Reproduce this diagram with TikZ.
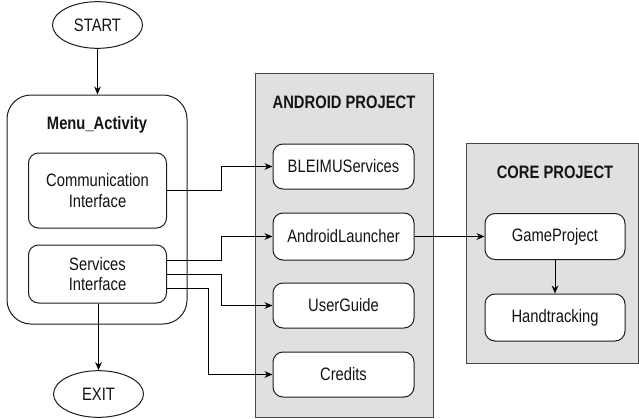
\documentclass[tikz,border=0pt]{standalone}
\usepackage{fontspec}
\setmainfont{Liberation Sans}[FakeStretch=0.82]
\usetikzlibrary{shapes.geometric,arrows.meta}
\definecolor{projfill}{RGB}{224,224,224}
\definecolor{projline}{RGB}{70,70,70}
\definecolor{nodeline}{RGB}{30,30,30}
\definecolor{txt}{RGB}{20,20,20}
\begin{document}
\begin{tikzpicture}[x=0.75pt,y=-0.75pt,
 every node/.style={font=\fontsize{13.5}{15.5}\selectfont, text=txt, inner sep=0pt, align=center},
 box/.style={draw=nodeline, fill=white, rounded corners=7.5pt, line width=0.75pt},
 proj/.style={draw=projline, fill=projfill, line width=0.75pt},
 term/.style={draw=nodeline, ellipse, fill=white, line width=0.75pt, minimum width=67.5pt, minimum height=35pt},
 title/.style={font=\fontsize{13.5}{15.5}\selectfont\bfseries},
 conn/.style={draw=black, line width=0.75pt, -{Stealth[length=6pt,width=5pt]}},
]
\path[use as bounding box, fill=white] (0,0) rectangle (639,418);

% left column
\node[term] (start) at (97.5,25) {START};
\node[box, rounded corners=18pt, minimum width=135pt, minimum height=171.75pt] (menu) at (97,209.5) {};
\node[title] (menutitle) at (97,125) {Menu\_Activity};
\node[box, minimum width=103.5pt, minimum height=56.25pt] (comm) at (97.5,190.5) {Communication\\Interface};
\node[box, minimum width=103.5pt, minimum height=43.5pt] (serv) at (97.5,274) {Services\\Interface};
\node[term] (exit) at (98.5,394) {EXIT};

% android project
\node[proj, minimum width=133.5pt, minimum height=258pt] (android) at (344,245) {};
\node[title] (androidtitle) at (344,102) {ANDROID PROJECT};
\node[box, minimum width=105.75pt, minimum height=33.75pt] (ble) at (343.5,166.5) {BLEIMUServices};
\node[box, minimum width=105.75pt, minimum height=35.25pt] (al) at (343.5,236.5) {AndroidLauncher};
\node[box, minimum width=105.75pt, minimum height=33.75pt] (ug) at (343.5,305.5) {UserGuide};
\node[box, minimum width=105.75pt, minimum height=33.75pt] (cred) at (343.5,374.5) {Credits};

% core project
\node[proj, minimum width=129pt, minimum height=165pt] (core) at (552,253) {};
\node[title] (coretitle) at (555,172) {CORE PROJECT};
\node[box, minimum width=105pt, minimum height=34.5pt] (game) at (555,236.5) {GameProject};
\node[box, minimum width=105pt, minimum height=35.25pt] (hand) at (555,317.5) {Handtracking};

% connectors
\draw[conn] (start.south) -- (start.south |- menu.north);
\draw[conn] (serv.south -| exit.north) -- (exit.north);
\draw[conn] (comm.east) -- ++(54,0) |- (ble.west);
\draw[conn] ([yshift=10.5pt]serv.east) -- ++(54,0) |- (al.west);
\draw[conn] (serv.east) -- ++(54,0) |- (ug.west);
\draw[conn] ([yshift=-10.5pt]serv.east) -- ++(41,0) |- (cred.west);
\draw[conn] (al.east) -- (game.west);
\draw[conn] (game.south) -- (hand.north);
\end{tikzpicture}
\end{document}
